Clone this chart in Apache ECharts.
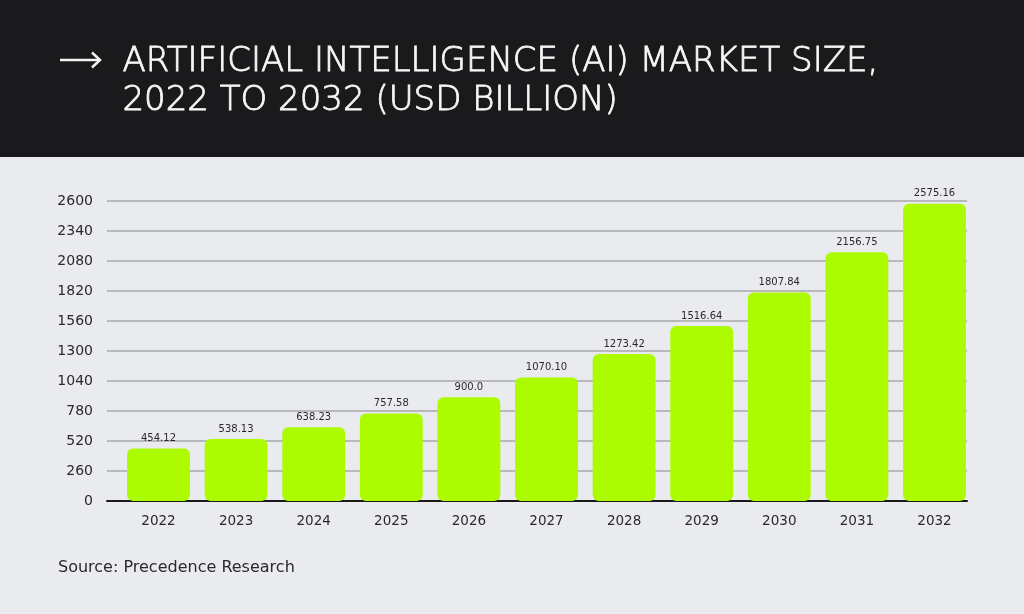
<!DOCTYPE html>
<html>
<head>
<meta charset="utf-8">
<script src="https://cdn.jsdelivr.net/npm/echarts@6/dist/echarts.min.js"></script>
<style>html,body{margin:0;padding:0;background:#e9ebef}#c{width:1024px;height:614px}</style>
</head>
<body>
<div id="c"></div>
<script>
var years = ['2022','2023','2024','2025','2026','2027','2028','2029','2030','2031','2032'];
var values = [454.12, 538.13, 638.23, 757.58, 900.0, 1070.10, 1273.42, 1516.64, 1807.84, 2156.75, 2575.16];
var valueLabels = ['454.12','538.13','638.23','757.58','900.0','1070.10','1273.42','1516.64','1807.84','2156.75','2575.16'];
var yMin = 0, yMax = 2600, yStep = 260;
var titleLine1 = 'ARTIFICIAL INTELLIGENCE (AI) MARKET SIZE,';
var titleLine2 = '2022 TO 2032 (USD BILLION)';
var sourceText = 'Source: Precedence Research';

var chart = echarts.init(document.getElementById('c'), null, {renderer: 'canvas'});
var font = '"DejaVu Sans", sans-serif';
var titleFont = '"DejaVu Sans ExtraLight", "DejaVu Sans", sans-serif';
chart.setOption({
  backgroundColor: '#e9ebef',
  animation: false,
  graphic: [
    {type: 'rect', shape: {x: 0, y: 0, width: 1024, height: 157}, style: {fill: '#1a1a1d'}, z: -1},
    {type: 'line', shape: {x1: 60, y1: 60, x2: 100, y2: 60}, style: {stroke: '#f4f4f4', lineWidth: 2.5}},
    {type: 'polyline', shape: {points: [[92, 52.5], [100, 60], [92, 67.5]]}, style: {stroke: '#f4f4f4', lineWidth: 2.5, fill: null}},
    {type: 'text', left: 122, top: 45, style: {text: titleLine1, fill: '#f6f6f6', stroke: '#f6f6f6', lineWidth: 0.8, font: '300 34px ' + titleFont}},
    {type: 'text', left: 122, top: 84, style: {text: titleLine2, fill: '#f6f6f6', stroke: '#f6f6f6', lineWidth: 0.8, font: '300 34px ' + titleFont}},
    {type: 'text', left: 58, top: 560, style: {text: sourceText, fill: '#2a2a2a', font: '400 16px ' + font}}
  ],
  grid: [
    {left: 107, right: 57, top: 201, height: 300},
    {left: 119.7, right: 50.7, top: 201, height: 300}
  ],
  xAxis: [
    {type: 'category', gridIndex: 0, data: years, axisLine: {lineStyle: {color: '#1a1a1a', width: 2}}, axisTick: {show: false}, axisLabel: {show: false}},
    {type: 'category', gridIndex: 1, data: years, axisLine: {show: false}, axisTick: {show: false},
     axisLabel: {margin: 13, fontSize: 13.5, color: '#2a2a2a', fontFamily: font}}
  ],
  yAxis: [
    {type: 'value', gridIndex: 0, min: yMin, max: yMax, interval: yStep, axisLine: {show: false}, axisTick: {show: false},
     axisLabel: {margin: 14, fontSize: 14, color: '#2a2a2a', fontFamily: font, formatter: function (v) { return String(v); }},
     splitLine: {lineStyle: {color: '#a6a8ad', width: 1.5}}},
    {type: 'value', gridIndex: 1, min: yMin, max: yMax, interval: yStep, show: false, splitLine: {show: false}}
  ],
  series: [{
    type: 'bar',
    xAxisIndex: 1, yAxisIndex: 1,
    data: values,
    barCategoryGap: '19%',
    itemStyle: {color: '#adfb00', borderRadius: [6, 6, 6, 6]},
    label: {show: true, position: 'top', distance: 5, fontSize: 10, color: '#2a2a2a', fontFamily: font,
      formatter: function (p) { return valueLabels[p.dataIndex]; }},
    z: 3
  }]
});
</script>
</body>
</html>
